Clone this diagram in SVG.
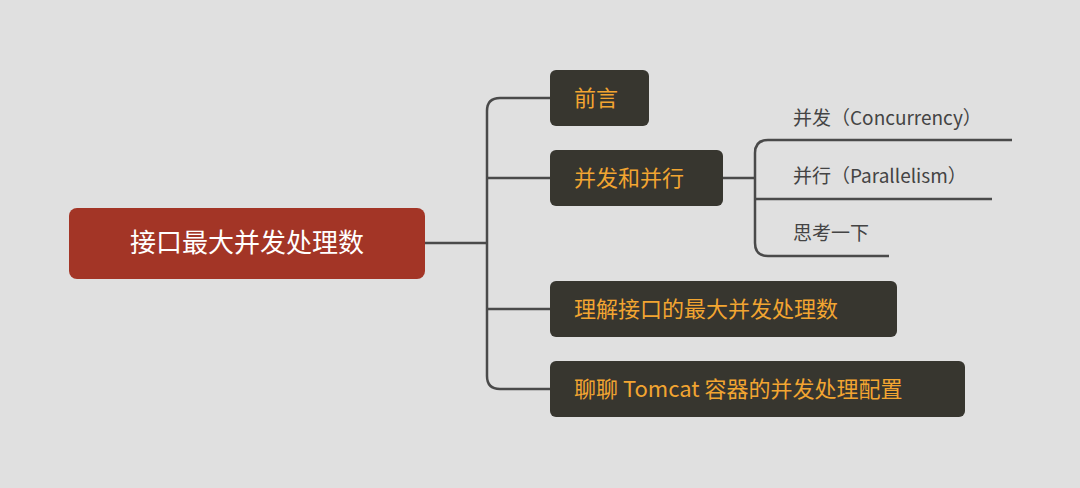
<svg xmlns="http://www.w3.org/2000/svg" width="1080" height="488" viewBox="0 0 1080 488">
<style>
.c{fill:none;stroke:#4a4a4a;stroke-width:2.5}
.n{fill:#37362f}
.t{font-family:"Noto Sans CJK SC","Noto Sans",sans-serif;font-size:22px;fill:#f2a531}
.s{font-family:"Noto Sans CJK SC","Noto Sans",sans-serif;font-size:19px;fill:#444}
</style>
<rect width="1080" height="488" fill="#e0e0e0"/>
<g id="connectors">
<path class="c" d="M425 243H487"/>
<path class="c" d="M550 98H500Q487 98 487 111V376Q487 389 500 389H550"/>
<path class="c" d="M487 178H550M487 309H550"/>
<path class="c" d="M723 178H755"/>
<path class="c" d="M1012 140H768Q755 140 755 153V243Q755 256 768 256H889"/>
<path class="c" d="M755 199H992"/>
</g>
<g id="root"><rect x="69" y="208" width="356" height="71" rx="8" fill="#a33526"/>
<text x="247" y="252" text-anchor="middle" font-family="Noto Sans CJK SC,sans-serif" font-size="26" fill="#fff">接口最大并发处理数</text></g>
<g id="n1"><rect class="n" x="550" y="70" width="99" height="56" rx="6"/><text class="t" x="574" y="106">前言</text></g>
<g id="n2"><rect class="n" x="550" y="150" width="173" height="56" rx="6"/><text class="t" x="574" y="186">并发和并行</text></g>
<g id="n3"><rect class="n" x="550" y="281" width="347" height="56" rx="6"/><text class="t" x="574" y="317">理解接口的最大并发处理数</text></g>
<g id="n4"><rect class="n" x="550" y="361" width="415" height="56" rx="6"/><text class="t" x="574" y="397">聊聊 Tomcat 容器的并发处理配置</text></g>
<g id="s1"><text class="s" x="793" y="125">并发（Concurrency）</text></g>
<g id="s2"><text class="s" x="793" y="183">并行（Parallelism）</text></g>
<g id="s3"><text class="s" x="793" y="240">思考一下</text></g>
</svg>
